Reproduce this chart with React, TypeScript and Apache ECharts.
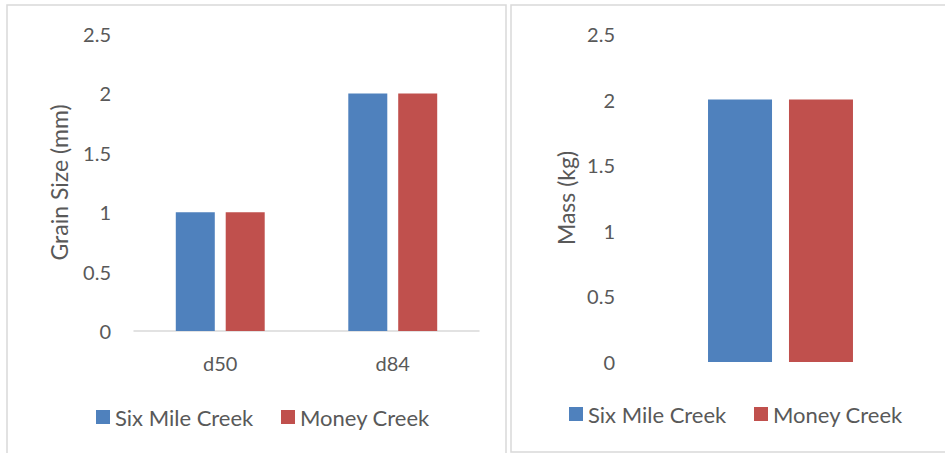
import React, { useEffect, useRef } from 'react';
import * as echarts from 'echarts';

const seriesNames = ['Six Mile Creek', 'Money Creek'];
const grainCategories = ['d50', 'd84'];
const grainSixMile = [1, 2];
const grainMoney = [1, 2];
const massCategories = ['Mass'];
const massSixMile = [2];
const massMoney = [2];
const yMin = 0;
const yMax = 2.5;
const yInterval = 0.5;
const grainTitle = 'Grain Size (mm)';
const massTitle = 'Mass (kg)';

const BLUE = '#4F81BD';
const RED = '#C0504D';
const TEXT = '#595959';
const BORDER = '#D9D9D9';
const FONT = 'Lato';

export default function App() {
  const ref = useRef<HTMLDivElement>(null);
  useEffect(() => {
    if (!ref.current) return;
    const chart = echarts.init(ref.current, undefined, { renderer: 'svg' });
    const label = { color: TEXT, fontFamily: FONT, fontSize: 20 };
    const legendBase = {
      itemWidth: 14,
      itemHeight: 14,
      itemGap: 30,
      padding: 0,
      icon: 'rect',
      selectedMode: false,
      textStyle: { color: TEXT, fontFamily: FONT, fontSize: 22 },
    };
    chart.setOption({
      animation: false,
      backgroundColor: '#ffffff',
      graphic: [
        {
          type: 'rect',
          shape: { x: 7, y: 5, width: 499, height: 470 },
          style: { fill: 'none', stroke: BORDER, lineWidth: 1.5 },
          silent: true,
        },
        {
          type: 'rect',
          shape: { x: 511, y: 5, width: 460, height: 447 },
          style: { fill: 'none', stroke: BORDER, lineWidth: 1.5 },
          silent: true,
        },
      ],
      legend: [
        { ...legendBase, data: [seriesNames[0]], left: 96, top: 406 },
        { ...legendBase, data: [seriesNames[1]], left: 281, top: 406 },
        { ...legendBase, data: [seriesNames[0]], left: 569, top: 403 },
        { ...legendBase, data: [seriesNames[1]], left: 754, top: 403 },
      ],
      grid: [
        { left: 134, top: 34, width: 345, height: 297 },
        { left: 628, top: 34, width: 305, height: 328 },
      ],
      xAxis: [
        {
          type: 'category',
          gridIndex: 0,
          data: grainCategories,
          axisTick: { show: false },
          axisLine: { show: true, lineStyle: { color: BORDER, width: 1.5 } },
          axisLabel: { ...label, margin: 22 },
        },
        {
          type: 'category',
          gridIndex: 1,
          data: massCategories,
          axisTick: { show: false },
          axisLine: { show: false },
          axisLabel: { show: false },
        },
      ],
      yAxis: [
        {
          type: 'value',
          gridIndex: 0,
          min: yMin,
          max: yMax,
          interval: yInterval,
          splitLine: { show: false },
          axisTick: { show: false },
          axisLine: { show: false },
          name: grainTitle,
          nameLocation: 'middle',
          nameRotate: 90,
          nameGap: 64,
          nameTextStyle: { color: TEXT, fontFamily: FONT, fontSize: 23 },
          axisLabel: { ...label, margin: 23 },
        },
        {
          type: 'value',
          gridIndex: 1,
          min: yMin,
          max: yMax,
          interval: yInterval,
          splitLine: { show: false },
          axisTick: { show: false },
          axisLine: { show: false },
          name: massTitle,
          nameLocation: 'middle',
          nameRotate: 90,
          nameGap: 51,
          nameTextStyle: { color: TEXT, fontFamily: FONT, fontSize: 23 },
          axisLabel: { ...label, margin: 13 },
        },
      ],
      series: [
        {
          type: 'bar',
          name: seriesNames[0],
          xAxisIndex: 0,
          yAxisIndex: 0,
          data: grainSixMile,
          barWidth: 39,
          barGap: '28%',
          itemStyle: { color: BLUE },
        },
        {
          type: 'bar',
          name: seriesNames[1],
          xAxisIndex: 0,
          yAxisIndex: 0,
          data: grainMoney,
          barWidth: 39,
          barGap: '28%',
          itemStyle: { color: RED },
        },
        {
          type: 'bar',
          name: seriesNames[0],
          xAxisIndex: 1,
          yAxisIndex: 1,
          data: massSixMile,
          barWidth: 64,
          barGap: '26.5%',
          itemStyle: { color: BLUE },
        },
        {
          type: 'bar',
          name: seriesNames[1],
          xAxisIndex: 1,
          yAxisIndex: 1,
          data: massMoney,
          barWidth: 64,
          barGap: '26.5%',
          itemStyle: { color: RED },
        },
      ],
    });
    return () => chart.dispose();
  }, []);
  return (
    <div
      ref={ref}
      style={{ position: 'absolute', left: 0, top: 0, width: 945, height: 453 }}
    />
  );
}
